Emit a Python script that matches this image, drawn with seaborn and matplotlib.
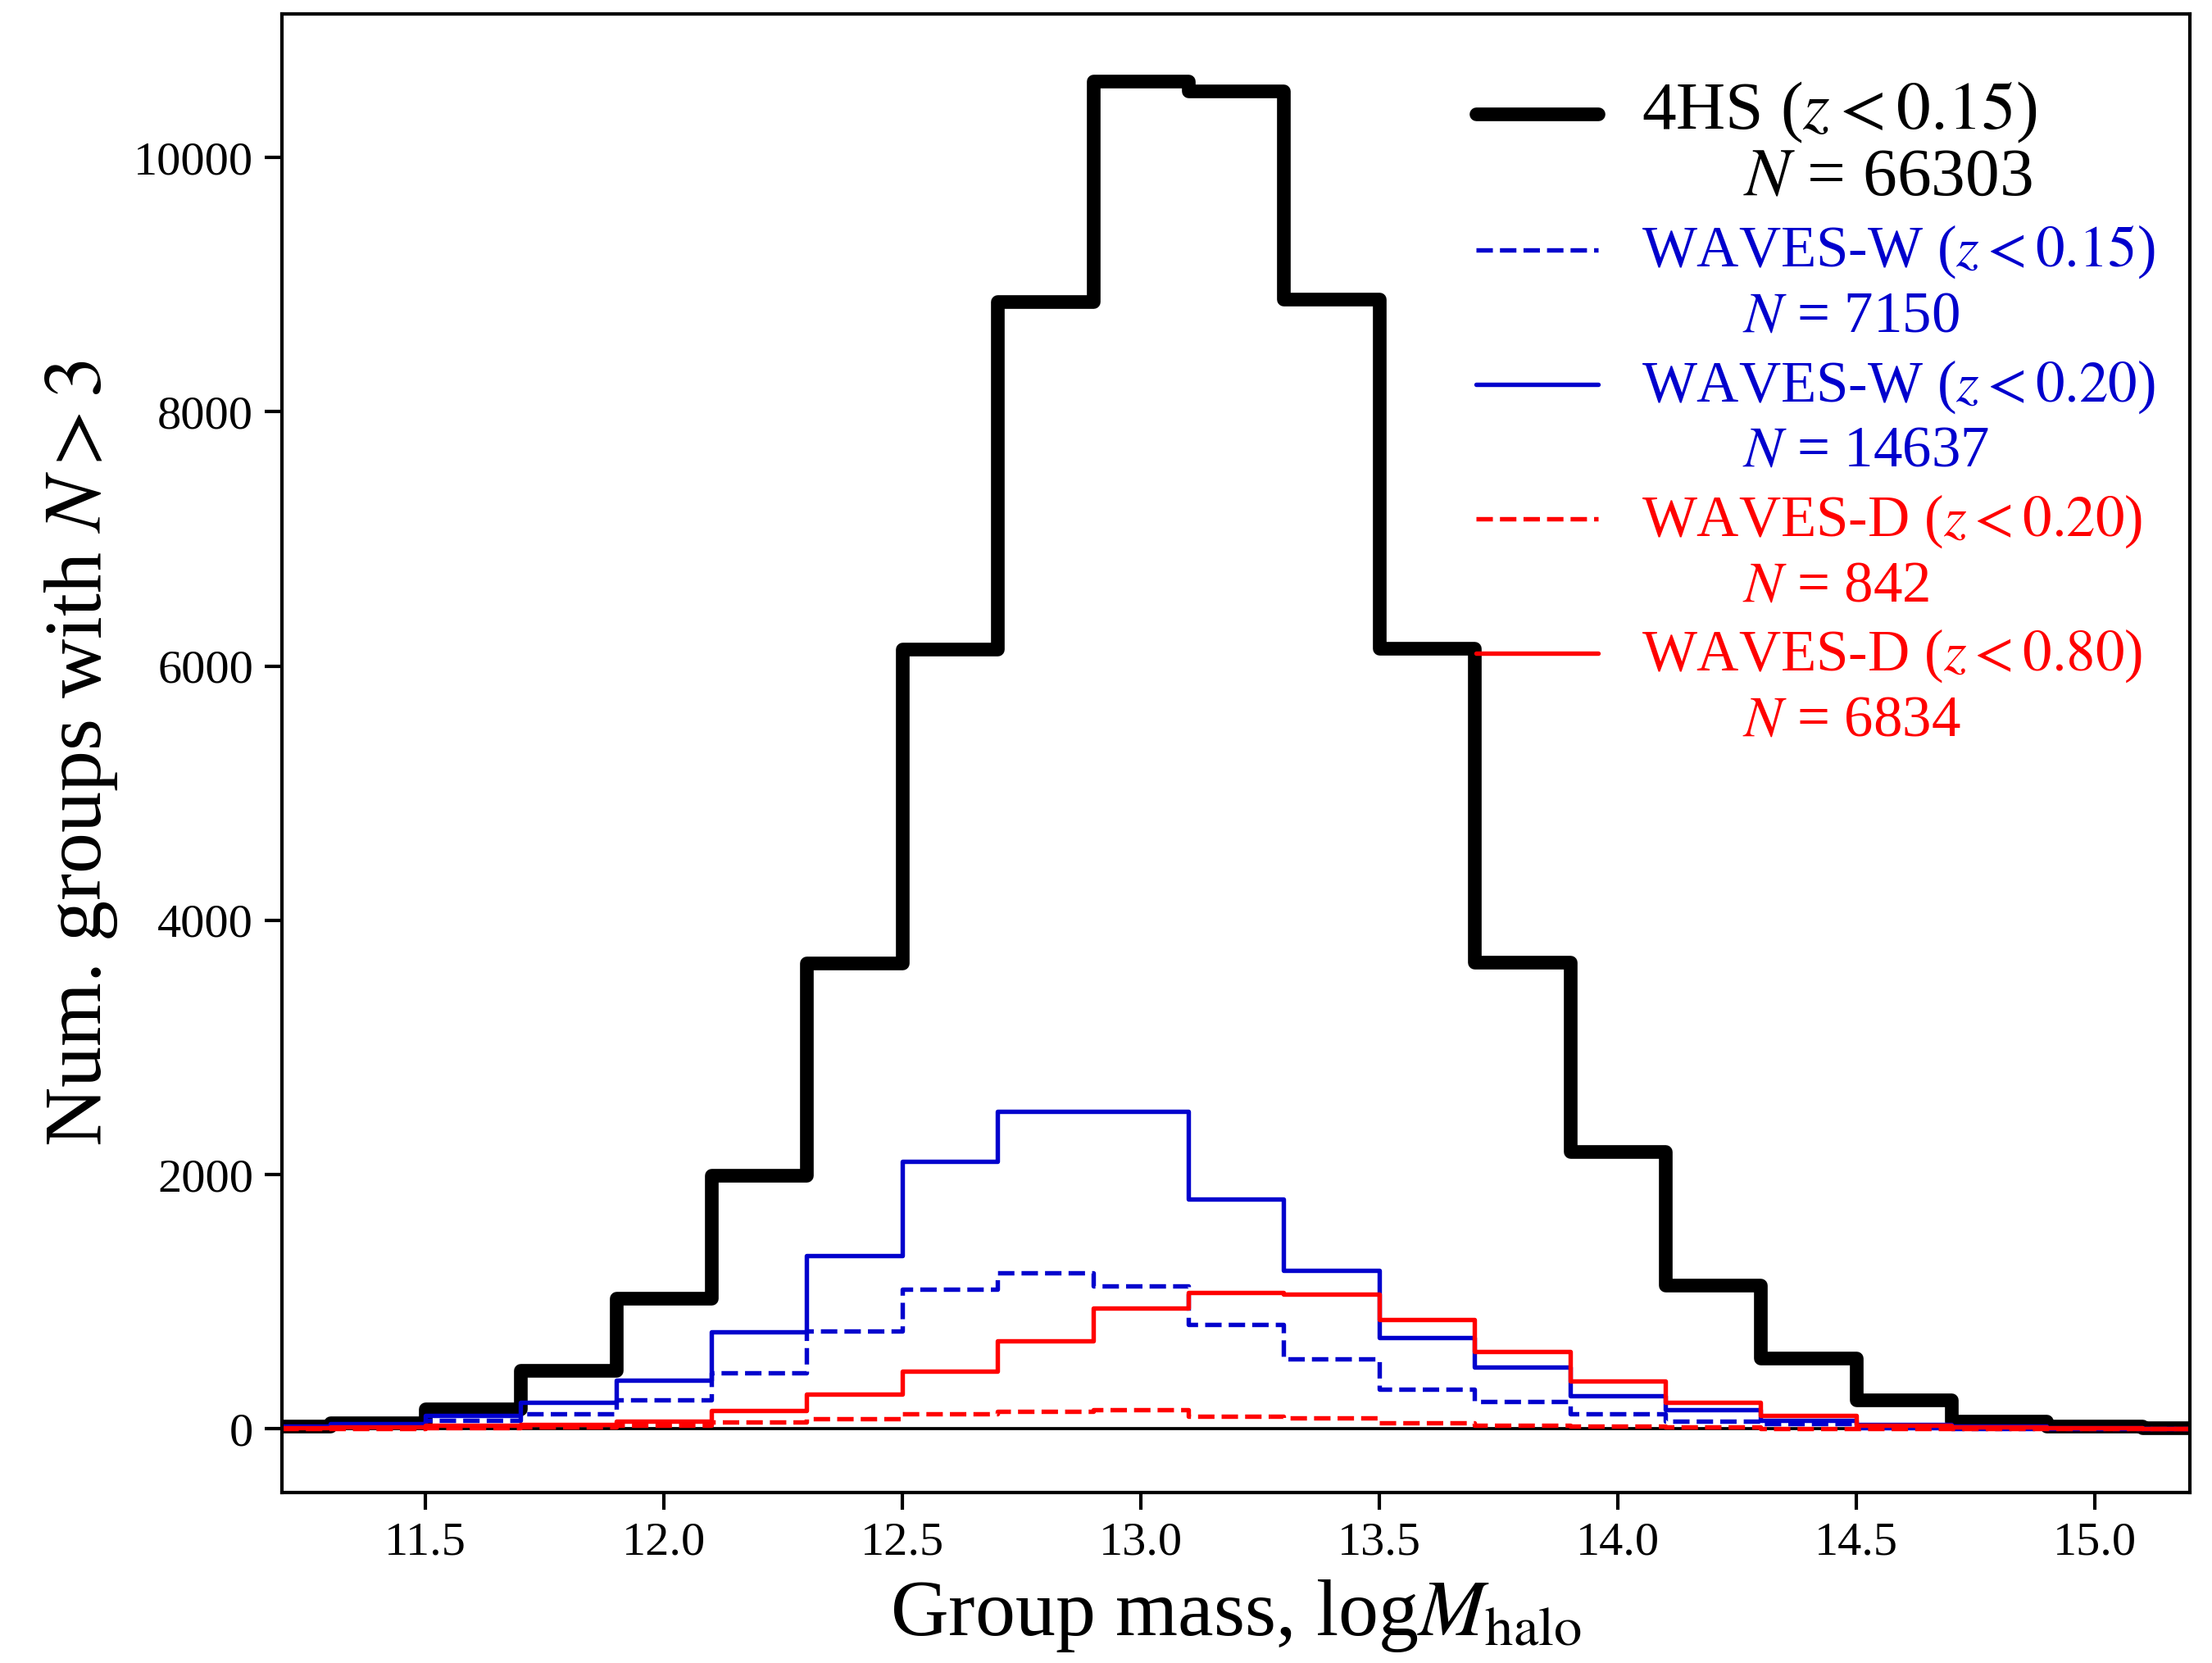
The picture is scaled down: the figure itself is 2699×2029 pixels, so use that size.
import numpy as np
import pandas as pd
import seaborn as sns
import matplotlib
matplotlib.use("Agg")
import matplotlib.pyplot as plt

# bin centres (log Mhalo), bins of 0.2 dex
mass = [11.2, 11.4, 11.6, 11.8, 12.0, 12.2, 12.4, 12.6, 12.8, 13.0, 13.2,
        13.4, 13.6, 13.8, 14.0, 14.2, 14.4, 14.6, 14.8, 15.0, 15.2]

n_4hs = [20, 45, 158, 460, 1025, 1992, 3665, 6132, 8870, 10600, 10525,
         8885, 6140, 3670, 2178, 1130, 558, 230, 58, 22, 6]
n_ww15 = [10, 25, 67, 116, 230, 442, 771, 1095, 1226, 1123, 822,
          550, 309, 217, 120, 62, 40, 10, 5, 2, 0]
n_ww20 = [20, 40, 103, 206, 383, 765, 1362, 2106, 2494, 2494, 1806,
          1247, 715, 486, 260, 148, 67, 35, 18, 10, 4]
n_wd20 = [2, 4, 6, 12, 28, 52, 82, 120, 138, 153, 99,
          88, 45, 28, 20, 12, 5, 3, 2, 1, 0]
n_wd80 = [10, 15, 28, 35, 60, 142, 270, 455, 694, 951, 1072,
          1061, 861, 608, 378, 206, 105, 28, 15, 10, 5]

pad = "       "
labels = [r"4HS ($z<0.15$)" + "\n" + "      " + r"$N$ = 66303",
          r"WAVES-W ($z<0.15$)" + "\n" + pad + r"$N$ = 7150",
          r"WAVES-W ($z<0.20$)" + "\n" + pad + r"$N$ = 14637",
          r"WAVES-D ($z<0.20$)" + "\n" + pad + r"$N$ = 842",
          r"WAVES-D ($z<0.80$)" + "\n" + pad + r"$N$ = 6834"]

sns.set_style("ticks")
plt.rcParams["font.family"] = ["Liberation Serif", "DejaVu Serif"]
plt.rcParams["mathtext.fontset"] = "stix"
plt.rcParams["text.color"] = "black"
plt.rcParams["axes.labelcolor"] = "black"
plt.rcParams["xtick.color"] = "black"
plt.rcParams["ytick.color"] = "black"
plt.rcParams["axes.edgecolor"] = "black"

fig = plt.figure(figsize=(2699 / 300, 2029 / 300), dpi=300)
ax = fig.add_axes([0.1276, 0.1026, 0.8624, 0.889])

series = [(n_4hs, "black", "-", 4.0),
          (n_ww15, "mediumblue", "--", 1.3),
          (n_ww20, "mediumblue", "-", 1.3),
          (n_wd20, "red", "--", 1.3),
          (n_wd80, "red", "-", 1.3)]

for (vals, col, ls, lw), lab in zip(series, labels):
    df = pd.DataFrame({"mass": mass, "n": vals})
    kw = {"dashes": (3.6, 1.8)} if ls == "--" else {}
    sns.lineplot(data=df, x="mass", y="n", ax=ax, color=col, linestyle=ls,
                 linewidth=lw, drawstyle="steps-mid", label=lab, **kw)

ax.axhline(0, color="black", lw=0.9, zorder=0)
ax.set_xlim(11.2, 15.2)
ax.set_ylim(-500, 11130)
ax.set_xticks([11.5, 12.0, 12.5, 13.0, 13.5, 14.0, 14.5, 15.0])
ax.set_yticks([0, 2000, 4000, 6000, 8000, 10000])
ax.tick_params(labelsize=14, length=5, width=1)
for s in ax.spines.values():
    s.set_linewidth(1.0)

ax.set_xlabel(r"Group mass, log$M_{\rm halo}$", fontsize=23.5)
ax.set_ylabel(r"Num. groups with $N>3$", fontsize=24)

leg = ax.legend(loc="upper right", bbox_to_anchor=(1.0, 0.979), frameon=False,
                fontsize=17, handlelength=2.1, handletextpad=0.75,
                labelspacing=0.24, borderaxespad=0.2)
for txt, (vals, col, ls, lw) in zip(leg.get_texts(), series):
    txt.set_color(col)
    txt.set_linespacing(1.25)
# the 4HS entry is printed larger, same line pitch
leg.get_texts()[0].set_fontsize(20)
leg.get_texts()[0].set_linespacing(1.06)
# put the handle level with the first line of each label
for ln in leg.get_lines():
    ln.set_ydata(np.asarray(ln.get_ydata()) + 10)

fig.savefig("out.png", dpi=300)
